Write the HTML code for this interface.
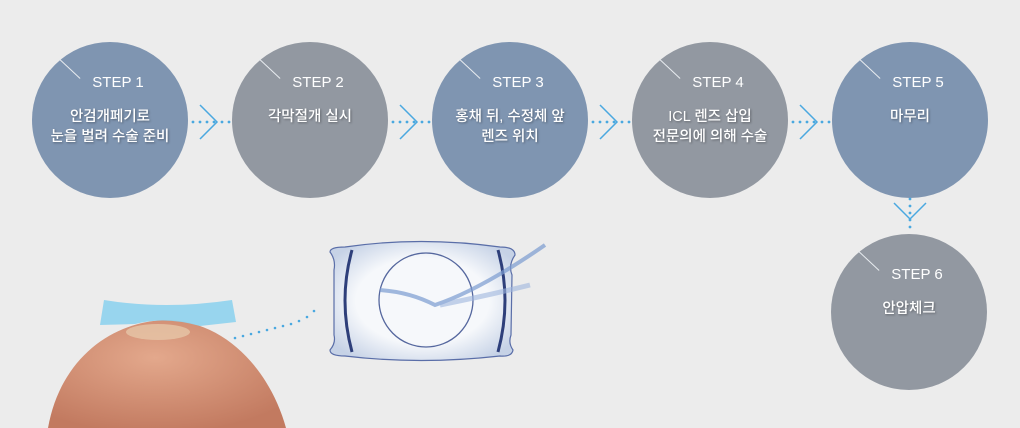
<!DOCTYPE html>
<html><head><meta charset="utf-8"><style>
body{margin:0;width:1020px;height:428px;background:#ececec;overflow:hidden;position:relative;font-family:"Liberation Sans","Noto Sans CJK KR",sans-serif}
.c{position:absolute;width:156px;height:156px;border-radius:50%;color:#fff;text-align:center}
.b{background:#7f95b1}.g{background:#9298a1}
.c .s{position:absolute;top:32px;left:0;width:100%;font-size:15px;padding-left:16px;box-sizing:border-box}
.c .t{position:absolute;top:65px;left:0;width:100%;font-size:14.5px;line-height:20px;font-weight:500;text-shadow:1px 1px 2px rgba(0,0,0,.35)}
.c .l{position:absolute;left:28px;top:17px;width:28px;height:1px;background:#e8ecf0;transform:rotate(43deg);transform-origin:0 0}
</style></head><body>
<div class="c b" style="left:32px;top:42px"><div class="l"></div><div class="s">STEP 1</div><div class="t">안검개페기로<br>눈을 벌려 수술 준비</div></div>
<div class="c g" style="left:232px;top:42px"><div class="l"></div><div class="s">STEP 2</div><div class="t">각막절개 실시</div></div>
<div class="c b" style="left:432px;top:42px"><div class="l"></div><div class="s">STEP 3</div><div class="t">홍채 뒤, 수정체 앞<br>렌즈 위치</div></div>
<div class="c g" style="left:632px;top:42px"><div class="l"></div><div class="s">STEP 4</div><div class="t">ICL 렌즈 삽입<br>전문의에 의해 수술</div></div>
<div class="c b" style="left:832px;top:42px"><div class="l"></div><div class="s">STEP 5</div><div class="t">마무리</div></div>
<div class="c g" style="left:831px;top:234px"><div class="l"></div><div class="s">STEP 6</div><div class="t">안압체크</div></div>
<svg width="1020" height="428" style="position:absolute;left:0;top:0">
<g fill="none" stroke="#4aa8e0" stroke-width="1.5">
<path d="M200 105 L217 122 L200 139"/><path d="M400 105 L417 122 L400 139"/><path d="M600 105 L617 122 L600 139"/><path d="M800 105 L817 122 L800 139"/>
<path d="M894 203 L910 219 L926 203"/>
</g>
<g fill="#4aa8e0">
<g id="d"><circle cx="193" cy="122" r="1.4"/><circle cx="200" cy="122" r="1.4"/><circle cx="207" cy="122" r="1.4"/><circle cx="214" cy="122" r="1.4"/><circle cx="222" cy="122" r="1.4"/><circle cx="229" cy="122" r="1.4"/></g>
<use href="#d" x="200"/><use href="#d" x="400"/><use href="#d" x="600"/>
<circle cx="910" cy="199" r="1.4"/><circle cx="910" cy="206" r="1.4"/><circle cx="910" cy="213" r="1.4"/><circle cx="910" cy="220" r="1.4"/><circle cx="910" cy="227" r="1.4"/>
<circle cx="235" cy="338" r="1.3"/><circle cx="243" cy="336" r="1.3"/><circle cx="251" cy="334" r="1.3"/><circle cx="259" cy="332" r="1.3"/><circle cx="267" cy="330" r="1.3"/><circle cx="275" cy="328" r="1.3"/><circle cx="283" cy="326" r="1.3"/><circle cx="291" cy="324" r="1.3"/><circle cx="299" cy="321" r="1.3"/><circle cx="307" cy="317" r="1.3"/><circle cx="314" cy="311" r="1.3"/>
</g>
<defs><radialGradient id="f" cx="0.45" cy="0.35" r="0.7"><stop offset="0" stop-color="#e3a88c"/><stop offset="1" stop-color="#c27a60"/></radialGradient>
<radialGradient id="lz" cx="0.5" cy="0.5" r="0.6"><stop offset="0.6" stop-color="#f6f8fb"/><stop offset="1" stop-color="#c6d2e6"/></radialGradient></defs>
<path d="M48 428 C60 360 110 322 165 320 C225 320 270 370 286 428 Z" fill="url(#f)"/>
<path d="M104 300 Q165 310 232 300 L236 322 L200 326 Q165 316 135 324 L100 325 Z" fill="#8fd3ee" opacity=".9"/>
<ellipse cx="158" cy="332" rx="32" ry="8" fill="#e6c6a8" opacity=".8"/>
<path d="M330 252 Q330 247 345 247 Q420 236 500 247 Q515 247 515 255 Q508 265 512 275 L511 335 Q508 343 513 350 Q512 357 500 356 Q420 365 345 356 Q330 356 330 350 Q336 343 334 335 L334 270 Q336 260 330 252 Z" fill="url(#lz)" stroke="#5a6ea8" stroke-width="1.2"/>
<path d="M352 250 Q338 300 352 352" fill="none" stroke="#2e3f7a" stroke-width="3"/>
<path d="M498 250 Q512 300 498 352" fill="none" stroke="#2e3f7a" stroke-width="3"/>
<circle cx="426" cy="300" r="47" fill="none" stroke="#55679e" stroke-width="1.3"/>
<path d="M380 290 Q410 292 435 305 Q480 290 545 245" fill="none" stroke="#7a9bd0" stroke-width="4" opacity=".7"/>
<path d="M440 305 Q490 295 530 285" fill="none" stroke="#9fb6de" stroke-width="5" opacity=".6"/>
</svg>
</body></html>
